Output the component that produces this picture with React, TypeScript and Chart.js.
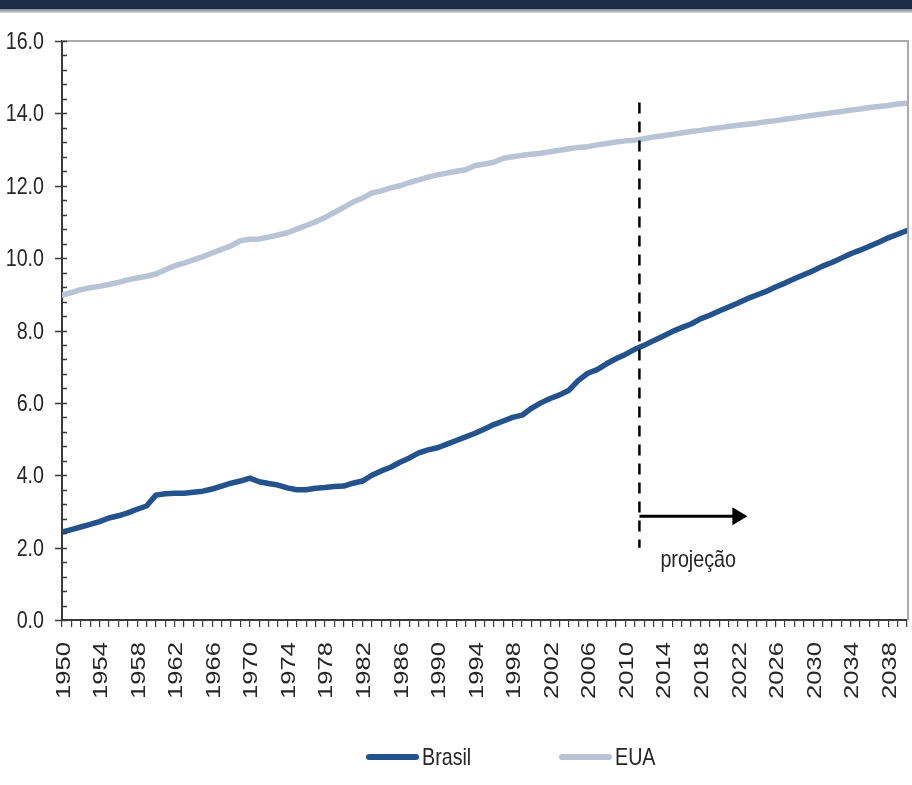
import React, { useEffect, useRef } from "react";
import { Chart, registerables } from "chart.js";

Chart.register(...registerables);

// ---------- data ----------
const YEARS: number[] = [
  1950, 1951, 1952, 1953, 1954, 1955, 1956, 1957, 1958, 1959,
  1960, 1961, 1962, 1963, 1964, 1965, 1966, 1967, 1968, 1969,
  1970, 1971, 1972, 1973, 1974, 1975, 1976, 1977, 1978, 1979,
  1980, 1981, 1982, 1983, 1984, 1985, 1986, 1987, 1988, 1989,
  1990, 1991, 1992, 1993, 1994, 1995, 1996, 1997, 1998, 1999,
  2000, 2001, 2002, 2003, 2004, 2005, 2006, 2007, 2008, 2009,
  2010, 2011, 2012, 2013, 2014, 2015, 2016, 2017, 2018, 2019,
  2020, 2021, 2022, 2023, 2024, 2025, 2026, 2027, 2028, 2029,
  2030, 2031, 2032, 2033, 2034, 2035, 2036, 2037, 2038, 2039,
  2040,
];

const BRASIL: number[] = [
  2.43, 2.50, 2.57, 2.64, 2.72, 2.82, 2.88, 2.96, 3.06, 3.15,
  3.45, 3.49, 3.50, 3.50, 3.53, 3.56, 3.62, 3.70, 3.78, 3.84,
  3.92, 3.82, 3.77, 3.73, 3.65, 3.60, 3.60, 3.64, 3.66, 3.69,
  3.70, 3.78, 3.84, 4.00, 4.12, 4.22, 4.36, 4.48, 4.62, 4.70,
  4.76, 4.86, 4.96, 5.06, 5.16, 5.28, 5.40, 5.50, 5.60, 5.66,
  5.85, 6.00, 6.12, 6.22, 6.35, 6.62, 6.82, 6.92, 7.08, 7.22,
  7.34, 7.48, 7.59, 7.72, 7.84, 7.97, 8.08, 8.18, 8.32, 8.42,
  8.54, 8.65, 8.76, 8.88, 8.98, 9.08, 9.20, 9.31, 9.43, 9.54,
  9.65, 9.78, 9.88, 10.00, 10.12, 10.22, 10.33, 10.44, 10.56, 10.66,
  10.76,
];

const EUA: number[] = [
  8.98, 9.05, 9.13, 9.18, 9.22, 9.27, 9.33, 9.40, 9.45, 9.50,
  9.56, 9.68, 9.79, 9.86, 9.95, 10.04, 10.14, 10.24, 10.34, 10.48,
  10.52, 10.53, 10.58, 10.64, 10.70, 10.80, 10.90, 11.00, 11.12, 11.26,
  11.40, 11.55, 11.66, 11.80, 11.86, 11.94, 12.00, 12.09, 12.16, 12.24,
  12.30, 12.35, 12.40, 12.44, 12.56, 12.60, 12.65, 12.76, 12.80, 12.84,
  12.87, 12.90, 12.94, 12.98, 13.02, 13.06, 13.08, 13.13, 13.17, 13.21,
  13.24, 13.26, 13.30, 13.35, 13.38, 13.42, 13.46, 13.50, 13.53, 13.57,
  13.60, 13.64, 13.67, 13.70, 13.73, 13.77, 13.80, 13.84, 13.87, 13.91,
  13.95, 13.98, 14.02, 14.05, 14.09, 14.12, 14.16, 14.19, 14.22, 14.26,
  14.28,
];

const X_LABEL_YEARS: number[] = [
  1950, 1954, 1958, 1962, 1966, 1970, 1974, 1978, 1982, 1986, 1990,
  1994, 1998, 2002, 2006, 2010, 2014, 2018, 2022, 2026, 2030, 2034, 2038,
];

const Y_MIN = 0;
const Y_MAX = 16;
const Y_MAJOR_STEP = 2;
const Y_MINOR_STEP = 0.4;

const SERIES_LABELS = ["Brasil", "EUA"];
const PROJECTION_LABEL = "projeção";
const PROJECTION_YEAR = 2011.5;
const PROJECTION_LINE_TOP = 14.3;
const PROJECTION_LINE_BOTTOM = 2.0;
const ARROW_END_YEAR = 2023;
const ARROW_VALUE = 2.87;
const PROJECTION_TEXT_VALUE = 1.65;

// ---------- styles ----------
const COLOR_BRASIL = "#23528c";
const COLOR_EUA = "#b8c4d6";
const TEXT_COLOR = "#262626";
const AXIS_COLOR = "#3a3a3a";
const FONT_REG = '"Liberation Sans", Arial, sans-serif';
const NARROW = 0.82; // horizontal squeeze to imitate the reference's tall glyphs
const X_STRETCH = 1.28; // rotated labels are elongated along reading direction

function narrowText(
  ctx: CanvasRenderingContext2D,
  text: string,
  x: number,
  y: number,
  align: CanvasTextAlign
) {
  ctx.save();
  ctx.translate(x, y);
  ctx.scale(NARROW, 1);
  ctx.textAlign = align;
  ctx.fillText(text, 0, 0);
  ctx.restore();
}

export default function App() {
  const canvasRef = useRef<HTMLCanvasElement | null>(null);

  useEffect(() => {
    const canvas = canvasRef.current;
    if (!canvas) return;

    const overlay = {
      id: "overlay",
      afterDatasetsDraw(chart: any) {
        const { ctx, chartArea } = chart;
        const xs = chart.scales.x;
        const ys = chart.scales.y;
        ctx.save();

        // top & right plot border
        ctx.strokeStyle = "#aaaaaa";
        ctx.lineWidth = 2;
        ctx.beginPath();
        ctx.moveTo(chartArea.left, chartArea.top);
        ctx.lineTo(chartArea.right + 1, chartArea.top);
        ctx.lineTo(chartArea.right + 1, chartArea.bottom);
        ctx.stroke();

        // y tick marks (major crossing, minor inside) and labels
        ctx.strokeStyle = AXIS_COLOR;
        ctx.lineWidth = 1.5;
        ctx.fillStyle = TEXT_COLOR;
        ctx.font = `24px ${FONT_REG}`;
        ctx.textBaseline = "middle";
        const n = Math.round((Y_MAX - Y_MIN) / Y_MINOR_STEP);
        const perMajor = Math.round(Y_MAJOR_STEP / Y_MINOR_STEP);
        for (let i = 0; i <= n; i++) {
          const v = Y_MIN + i * Y_MINOR_STEP;
          const py = Math.round(ys.getPixelForValue(v)) + 0.5;
          const major = i % perMajor === 0;
          ctx.beginPath();
          ctx.moveTo(chartArea.left - (major ? 7 : 0), py);
          ctx.lineTo(chartArea.left + 5, py);
          ctx.stroke();
          if (major) {
            narrowText(ctx, v.toFixed(1), chartArea.left - 18, py + 1, "right");
          }
        }

        // x tick labels (rotated, reading bottom to top)
        ctx.font = `20px ${FONT_REG}`;
        ctx.fillStyle = TEXT_COLOR;
        for (const yr of X_LABEL_YEARS) {
          const lx = xs.getPixelForValue(yr);
          ctx.save();
          ctx.translate(lx + 2, chartArea.bottom + 22);
          ctx.rotate(-Math.PI / 2);
          ctx.scale(X_STRETCH, 1);
          ctx.textAlign = "right";
          ctx.textBaseline = "middle";
          ctx.fillText(String(yr), 0, 0);
          ctx.restore();
        }

        // dashed projection line
        const px = xs.getPixelForValue(PROJECTION_YEAR);
        ctx.strokeStyle = "#000000";
        ctx.lineWidth = 2.5;
        ctx.setLineDash([11, 8]);
        ctx.beginPath();
        ctx.moveTo(px, ys.getPixelForValue(PROJECTION_LINE_TOP));
        ctx.lineTo(px, ys.getPixelForValue(PROJECTION_LINE_BOTTOM));
        ctx.stroke();
        ctx.setLineDash([]);

        // arrow
        const ay = ys.getPixelForValue(ARROW_VALUE);
        const ax2 = xs.getPixelForValue(ARROW_END_YEAR);
        ctx.lineWidth = 3;
        ctx.beginPath();
        ctx.moveTo(px, ay);
        ctx.lineTo(ax2 - 12, ay);
        ctx.stroke();
        ctx.fillStyle = "#000000";
        ctx.beginPath();
        ctx.moveTo(ax2, ay);
        ctx.lineTo(ax2 - 15, ay - 9);
        ctx.lineTo(ax2 - 15, ay + 9);
        ctx.closePath();
        ctx.fill();

        // label
        ctx.fillStyle = TEXT_COLOR;
        ctx.font = `24px ${FONT_REG}`;
        ctx.textBaseline = "middle";
        narrowText(ctx, PROJECTION_LABEL, px + 21, ys.getPixelForValue(PROJECTION_TEXT_VALUE), "left");
        ctx.restore();
      },
    };

    const chart = new Chart(canvas, {
      type: "line",
      data: {
        datasets: [
          {
            label: SERIES_LABELS[0],
            data: YEARS.map((y, i) => ({ x: y, y: BRASIL[i] })),
            borderColor: COLOR_BRASIL,
            backgroundColor: COLOR_BRASIL,
            borderWidth: 5.5,
            pointRadius: 0,
            tension: 0,
            borderCapStyle: "round",
            borderJoinStyle: "round",
          },
          {
            label: SERIES_LABELS[1],
            data: YEARS.map((y, i) => ({ x: y, y: EUA[i] })),
            borderColor: COLOR_EUA,
            backgroundColor: COLOR_EUA,
            borderWidth: 5.5,
            pointRadius: 0,
            tension: 0,
            borderCapStyle: "round",
            borderJoinStyle: "round",
          },
        ],
      },
      options: {
        responsive: false,
        animation: false,
        devicePixelRatio: 1,
        layout: { padding: { left: 0, top: 41, right: 5, bottom: 0 } },
        plugins: {
          legend: { display: false },
          tooltip: { enabled: false },
        },
        scales: {
          x: {
            type: "linear",
            min: YEARS[0],
            max: YEARS[YEARS.length - 1],
            afterBuildTicks: (s: any) => {
              s.ticks = YEARS.map((v) => ({ value: v }));
            },
            afterFit: (s: any) => {
              s.height = 165;
              s.paddingLeft = 0;
              s.paddingRight = 0;
            },
            ticks: { display: false, autoSkip: false },
            grid: {
              display: true,
              drawOnChartArea: false,
              drawTicks: true,
              tickLength: 7,
              color: AXIS_COLOR,
              lineWidth: 1.2,
            },
            border: { display: true, color: AXIS_COLOR, width: 2 },
          },
          y: {
            min: Y_MIN,
            max: Y_MAX,
            afterFit: (s: any) => {
              s.width = 62;
            },
            ticks: { display: false, stepSize: Y_MAJOR_STEP },
            grid: { display: true, drawOnChartArea: false, drawTicks: false },
            border: { display: true, color: AXIS_COLOR, width: 2 },
          },
        },
      },
      plugins: [overlay],
    } as any);

    return () => chart.destroy();
  }, []);

  const legendText: React.CSSProperties = {
    position: "absolute",
    fontFamily: FONT_REG,
    fontSize: 24,
    color: TEXT_COLOR,
    lineHeight: "24px",
    top: 745,
    transform: `scaleX(${NARROW})`,
    transformOrigin: "left center",
    whiteSpace: "nowrap",
  };
  const swatch = (left: number, color: string): React.CSSProperties => ({
    position: "absolute",
    left,
    top: 754,
    width: 53,
    height: 6,
    borderRadius: 3,
    background: color,
  });

  return (
    <div
      style={{
        position: "fixed",
        left: 0,
        top: 0,
        width: 912,
        height: 785,
        background: "#ffffff",
        overflow: "hidden",
      }}
    >
      <div style={{ position: "absolute", left: 0, top: 0, width: 912, height: 9, background: "#1d2c46" }} />
      <div
        style={{
          position: "absolute",
          left: 0,
          top: 9,
          width: 912,
          height: 4,
          background: "linear-gradient(#7f8792, #d9d9d9)",
        }}
      />
      <canvas
        ref={canvasRef}
        width={912}
        height={785}
        style={{ position: "absolute", left: 0, top: 0, width: 912, height: 785 }}
      />
      <div style={swatch(366, COLOR_BRASIL)} />
      <div style={{ ...legendText, left: 422 }}>{SERIES_LABELS[0]}</div>
      <div style={swatch(559, COLOR_EUA)} />
      <div style={{ ...legendText, left: 615 }}>{SERIES_LABELS[1]}</div>
    </div>
  );
}
